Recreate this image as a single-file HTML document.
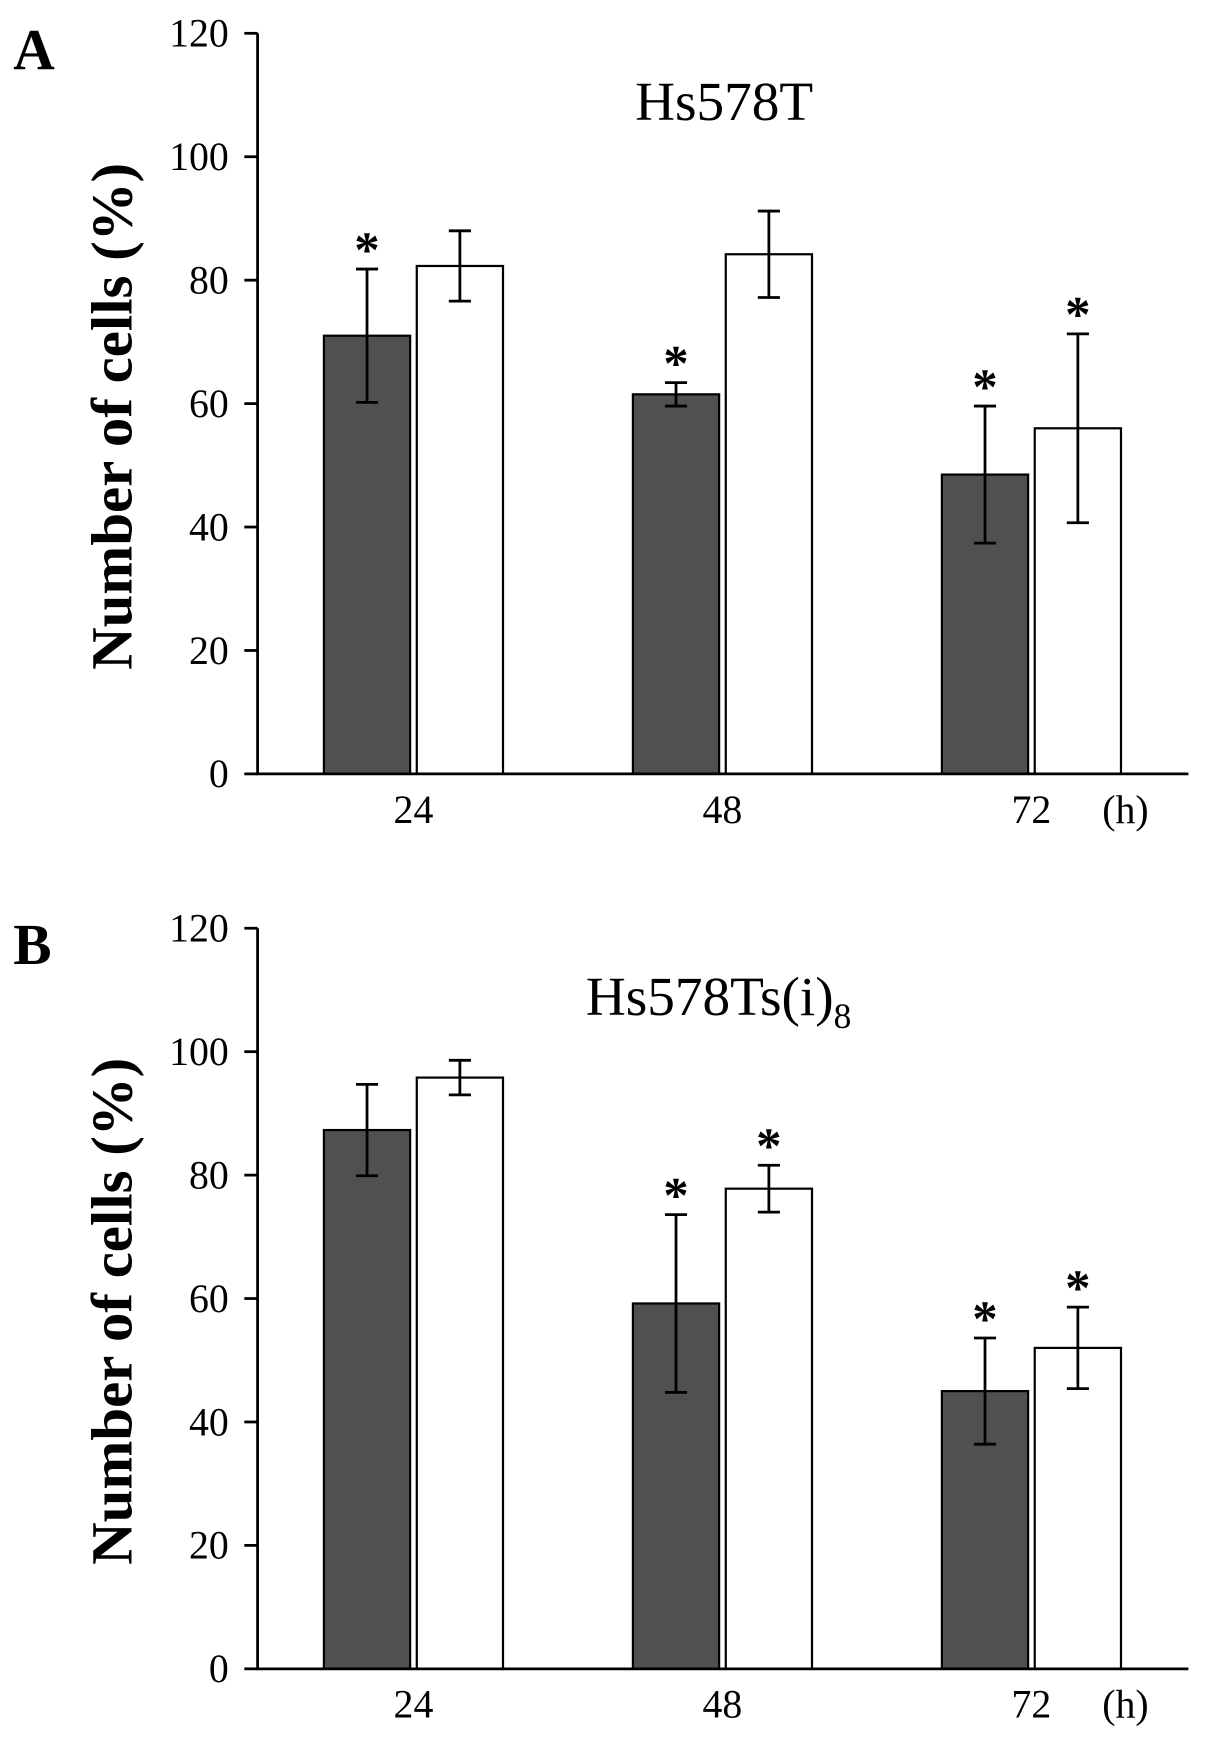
<!DOCTYPE html>
<html><head><meta charset="utf-8"><style>html,body{margin:0;padding:0;background:#fff}svg{display:block}</style></head>
<body>
<svg id="fig" width="1205" height="1741" viewBox="0 0 1090 1568" preserveAspectRatio="none" xmlns="http://www.w3.org/2000/svg" font-family="'Liberation Serif', serif"></svg>
<script>
const categories = ["24","48","72"];
const aDark = [71, 61.5, 48.5];
const aDarkErr = [10.8, 1.9, 11.1];
const aWhite = [82.3, 84.2, 56];
const aWhiteErr = [5.7, 7, 15.3];
const aDarkStar = [true, true, true];
const aWhiteStar = [false, false, true];
const bDark = [87.3, 59.2, 45];
const bDarkErr = [7.4, 14.4, 8.6];
const bWhite = [95.8, 77.8, 52];
const bWhiteErr = [2.8, 3.8, 6.6];
const bDarkStar = [false, true, true];
const bWhiteStar = [false, true, true];
const yTicks = [0, 20, 40, 60, 80, 100, 120];

const NS = "http://www.w3.org/2000/svg";
const svg = document.getElementById("fig");
function mk(tag, attrs, parent){const e=document.createElementNS(NS,tag);for(const k in attrs)e.setAttribute(k,attrs[k]);(parent||svg).appendChild(e);return e;}

function panel(id, top, letter, titleMain, titleSub, dark, darkErr, white, whiteErr, dStar, wStar){
  const g = mk("g",{});
  
  
  const x0=233, x1=1075, y0=top+667, yTop=top;
  const y = v => y0 - v/120*(y0-yTop);
  const groupX = i => 293 + i*279.5;
  const bw = 78, gap = 6;
  for(let i=0;i<categories.length;i++){
    const xd = groupX(i), xw = xd+bw+gap;
    const bd = mk("rect",{x:xd,y:y(dark[i]),width:bw,height:y0-y(dark[i]),fill:"#505050",stroke:"#000","stroke-width":2},g);
    
    
    const bwh = mk("rect",{x:xw,y:y(white[i]),width:bw,height:y0-y(white[i]),fill:"#fff",stroke:"#000","stroke-width":2},g);
    
    
    [[xd,dark[i],darkErr[i],dStar[i],'dark'],[xw,white[i],whiteErr[i],wStar[i],'white']].forEach(([bx,v,e,s,n])=>{
      const cx=bx+bw/2;
      const eb = mk("path",{d:`M${cx},${y(v+e)}V${y(v-e)}M${cx-10},${y(v+e)}H${cx+10}M${cx-10},${y(v-e)}H${cx+10}`,stroke:"#000","stroke-width":2.5,fill:"none"},g);
      
      
      if(s){
        const st = mk("text",{x:cx,y:y(v+e)-2,"text-anchor":"middle","font-size":46,"font-weight":"bold"},g);
        st.textContent="*";
        
        
      }
    });
    const tl = mk("text",{x:xd+bw+gap/2,y:y0+44,"text-anchor":"middle","font-size":36},g);
    tl.textContent=categories[i];
    
    
  }
  const ax = mk("path",{d:`M${x0},${yTop}V${y0}H${x1}`,stroke:"#000","stroke-width":2.5,fill:"none"},g);
  
  
  yTicks.forEach(t=>{
    mk("line",{x1:x0-12,x2:x0,y1:y(t),y2:y(t),stroke:"#000","stroke-width":2.5},g);
    const tt = mk("text",{x:x0-26,y:y(t)+12,"text-anchor":"end","font-size":36},g);
    tt.textContent=t;
    
    
  });
  const h = mk("text",{x:1018,y:y0+44,"text-anchor":"middle","font-size":36},g);
  h.textContent="(h)";
  
  
  const yt = mk("text",{transform:`translate(119,${top+345}) rotate(-90)`,"text-anchor":"middle","font-size":53,"font-weight":"bold"},g);
  yt.textContent="Number of cells (%)";
  
  
  const ti = mk("text",{x:titleSub?650:655,y:top+78,"text-anchor":"middle","font-size":50},g);
  ti.textContent=titleMain;
  if(titleSub){const ts=mk("tspan",{"font-size":32,dy:12},ti);ts.textContent=titleSub;}
  
  
  const pl = mk("text",{x:12,y:top+32,"font-size":52,"font-weight":"bold"},g);
  pl.textContent=letter;
  
  
}
panel("a",30,"A","Hs578T","",aDark,aDarkErr,aWhite,aWhiteErr,aDarkStar,aWhiteStar);
panel("b",836,"B","Hs578Ts(i)","8",bDark,bDarkErr,bWhite,bWhiteErr,bDarkStar,bWhiteStar);
</script>
</body></html>
